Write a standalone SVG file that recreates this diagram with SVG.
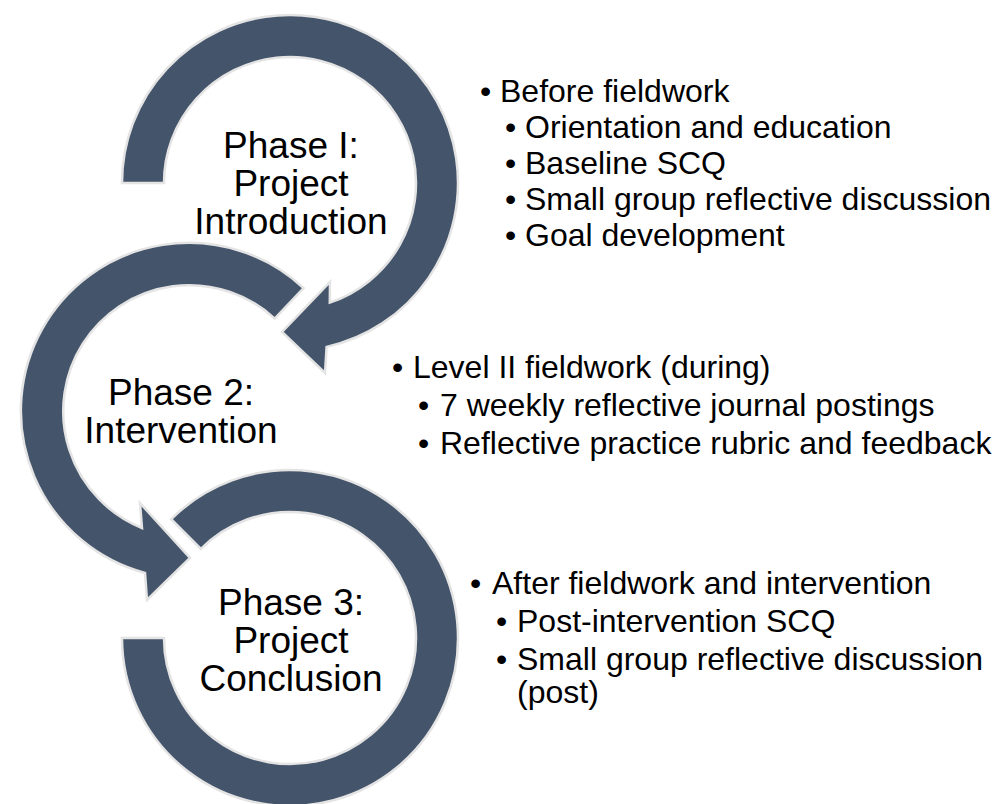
<svg xmlns="http://www.w3.org/2000/svg" width="995" height="804" viewBox="0 0 995 804">
  <style>
    .ring { fill: #44546A; stroke: #E4E4E4; stroke-width: 2.5; stroke-linejoin: miter; }
    .phase { font-family: "Liberation Sans", Arial, sans-serif; font-size: 37px; fill: #000; text-anchor: middle; }
    .item { font-family: "Liberation Sans", Arial, sans-serif; font-size: 32px; fill: #000; }
  </style>
  <rect width="995" height="804" fill="#fff"/>

  <!-- circular arrows -->
  <g id="connectors">
    <!-- phase 1 ring: clockwise from the left, head pointing toward phase 2 -->
    <path id="arrow1" class="ring" d="M122,183 A168,168 0 1 1 326.6,346.9 L325,373 L282,332 L330,282 L329.8,302.6 A126,126 0 1 0 164,183 Z"/>
    <!-- phase 2 ring: counter-clockwise from upper right, head pointing toward phase 3 -->
    <path id="arrow2" class="ring" d="M303.6,288.1 A168,168 0 1 0 145,573 L147,600 L190,558 L140,503 L142,528 A126,126 0 1 1 274.7,318.6 Z"/>
    <!-- phase 3 ring: open loop, no head -->
    <path id="arrow3" class="ring" d="M171.2,519.2 A168,168 0 1 1 122,638 L164,638 A126,126 0 1 0 200.9,548.9 Z"/>
  </g>

  <g id="phase1">
    <text class="phase" x="291" y="158">Phase I:</text>
    <text class="phase" x="291" y="196">Project</text>
    <text class="phase" x="291" y="234">Introduction</text>
  </g>
  <g id="phase2">
    <text class="phase" x="181" y="405">Phase 2:</text>
    <text class="phase" x="181" y="443">Intervention</text>
  </g>
  <g id="phase3">
    <text class="phase" x="291" y="615">Phase 3:</text>
    <text class="phase" x="291" y="653">Project</text>
    <text class="phase" x="291" y="691">Conclusion</text>
  </g>

  <g id="notes1" class="item">
    <text x="480" y="102">•</text><text x="500" y="102">Before fieldwork</text>
    <text x="505" y="138">•</text><text x="525" y="138">Orientation and education</text>
    <text x="505" y="174">•</text><text x="525" y="174">Baseline SCQ</text>
    <text x="505" y="210">•</text><text x="525" y="210">Small group reflective discussion</text>
    <text x="505" y="246">•</text><text x="525" y="246">Goal development</text>
  </g>
  <g id="notes2" class="item">
    <text x="392" y="378">•</text><text x="413" y="378">Level II fieldwork (during)</text>
    <text x="418" y="416">•</text><text x="440" y="416">7 weekly reflective journal postings</text>
    <text x="418" y="454">•</text><text x="440" y="454">Reflective practice rubric and feedback</text>
  </g>
  <g id="notes3" class="item">
    <text x="470" y="594">•</text><text x="492" y="594">After fieldwork and intervention</text>
    <text x="496" y="632">•</text><text x="517" y="632">Post-intervention SCQ</text>
    <text x="496" y="670">•</text><text x="517" y="670">Small group reflective discussion</text>
    <text x="517" y="703">(post)</text>
  </g>
</svg>
